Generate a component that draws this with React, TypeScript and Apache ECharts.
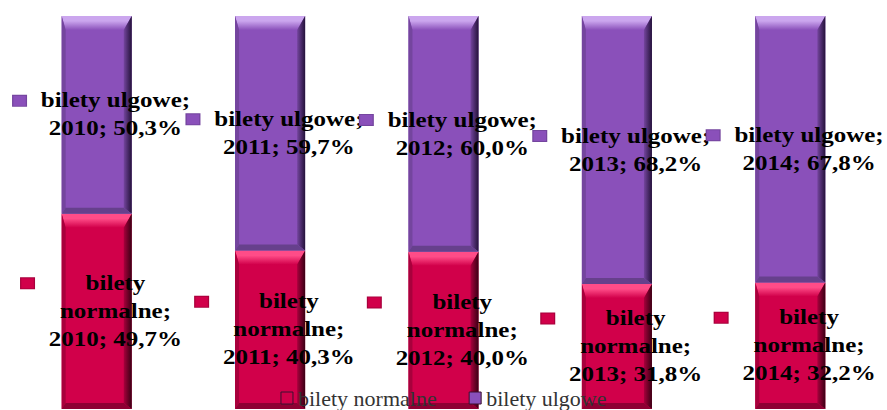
import React, { useEffect, useRef } from 'react';
import * as echarts from 'echarts';

const years = ['2010', '2011', '2012', '2013', '2014'];
const normalne = [49.7, 40.3, 40.0, 31.8, 32.2];
const ulgowe = [50.3, 59.7, 60.0, 68.2, 67.8];
const seriesNames = ['bilety normalne', 'bilety ulgowe'];

const SERIF = '"Liberation Serif", "Times New Roman", serif';

const PAL_N = { main: '#D1004A', light: '#FF4C88', side: '#A8003C', dark: '#3A0014', bottom: '#8E0033' };
const PAL_U = { main: '#8A50BA', light: '#CBA6EE', side: '#74459E', dark: '#24123A', bottom: '#66408C' };

const fmt = (v: number) => v.toFixed(1).replace('.', ',') + '%';

function makeRender(pal: any, linesFor: (i: number) => string[]) {
  return (params: any, api: any) => {
    const i = api.value(0);
    const lo = api.value(1);
    const hi = api.value(2);
    const pBase = api.coord([i, lo]);
    const pTop = api.coord([i, hi]);
    const w = api.size([1, 0])[0] * 0.404;
    const x = pBase[0] - w / 2;
    const y = pTop[1];
    const h = pBase[1] - pTop[1];
    const t = 14, s = 4, r = 8, b = 6;
    const lines = linesFor(params.dataIndex);
    const text = lines
      .map((ln, k) => (k === 0 ? '{m|}{g|}' : '{n|}') + '{t|' + ln + '}')
      .join('\n');
    return {
      type: 'group',
      children: [
        { type: 'rect', shape: { x, y, width: w, height: h }, style: { fill: pal.main } },
        {
          type: 'polygon',
          shape: { points: [[x, y], [x + w, y], [x + w - r, y + t], [x + s, y + t]] },
          style: {
            fill: new echarts.graphic.LinearGradient(0, 0, 0, 1, [
              { offset: 0, color: pal.light },
              { offset: 0.35, color: pal.light },
              { offset: 1, color: pal.main },
            ]),
          },
        },
        {
          type: 'polygon',
          shape: { points: [[x, y], [x + s, y + t], [x + s, y + h - b], [x, y + h]] },
          style: { fill: pal.side },
        },
        {
          type: 'polygon',
          shape: { points: [[x + w, y], [x + w, y + h], [x + w - r, y + h - b], [x + w - r, y + t]] },
          style: {
            fill: new echarts.graphic.LinearGradient(0, 0, 1, 0, [
              { offset: 0, color: pal.side },
              { offset: 1, color: pal.dark },
            ]),
          },
        },
        {
          type: 'polygon',
          shape: { points: [[x, y + h], [x + s, y + h - b], [x + w - r, y + h - b], [x + w, y + h]] },
          style: { fill: pal.bottom },
        },
        {
          type: 'rect',
          z2: 10,
          shape: { x, y, width: w, height: h },
          style: { fill: 'none' },
          textContent: {
            type: 'text',
            scaleX: 1.25,
            style: {
              text,
              fill: '#000',
              align: 'center',
              verticalAlign: 'middle',
              fontFamily: SERIF,
              fontWeight: 'bold',
              fontSize: 20,
              lineHeight: 28,
              rich: {
                m: { width: 10, height: 10, backgroundColor: pal.main, align: 'left', borderColor: pal.side, borderWidth: 1 },
                g: { width: 12, align: 'left' },
                n: { width: 22, align: 'left' },
                t: {
                  align: 'center',
                  fontFamily: SERIF,
                  fontWeight: 'bold',
                  fontSize: 20,
                  lineHeight: 28,
                  fill: '#000',
                },
              },
            },
          },
          textConfig: { position: 'inside', offset: [4, 0] },
        },
      ],
    };
  };
}

export default function App() {
  const ref = useRef<HTMLDivElement>(null);
  useEffect(() => {
    if (!ref.current) return;
    const chart = echarts.init(ref.current, null, { renderer: 'svg' });
    const dataN = years.map((_, i) => [i, 0, normalne[i]]);
    const dataU = years.map((_, i) => [i, normalne[i], normalne[i] + ulgowe[i]]);
    chart.setOption({
      animation: false,
      backgroundColor: '#ffffff',
      grid: { left: 10, right: 10, top: 16, bottom: 1 },
      xAxis: { type: 'category', data: years, show: false },
      yAxis: { type: 'value', min: 0, max: 100, show: false },
      legend: {
        data: seriesNames,
        left: 'center',
        top: 382,
        icon: 'rect',
        itemWidth: 12,
        itemHeight: 12,
        itemGap: 32,
        selectedMode: false,
        itemStyle: { borderColor: '#3a1030', borderWidth: 1 },
        textStyle: { fontFamily: SERIF, fontSize: 22, color: '#333333' },
      },
      series: [
        {
          type: 'custom',
          name: seriesNames[0],
          itemStyle: { color: PAL_N.main },
          encode: { x: 0, y: [1, 2] },
          data: dataN,
          renderItem: makeRender(PAL_N, (i) => ['bilety', 'normalne;', years[i] + '; ' + fmt(normalne[i])]),
        },
        {
          type: 'custom',
          name: seriesNames[1],
          itemStyle: { color: PAL_U.main },
          encode: { x: 0, y: [1, 2] },
          data: dataU,
          renderItem: makeRender(PAL_U, (i) => ['bilety ulgowe;', years[i] + '; ' + fmt(ulgowe[i])]),
        },
      ],
    });
    return () => chart.dispose();
  }, []);
  return (
    <div
      ref={ref}
      style={{ position: 'fixed', left: 0, top: 0, width: 887, height: 410 }}
    />
  );
}
